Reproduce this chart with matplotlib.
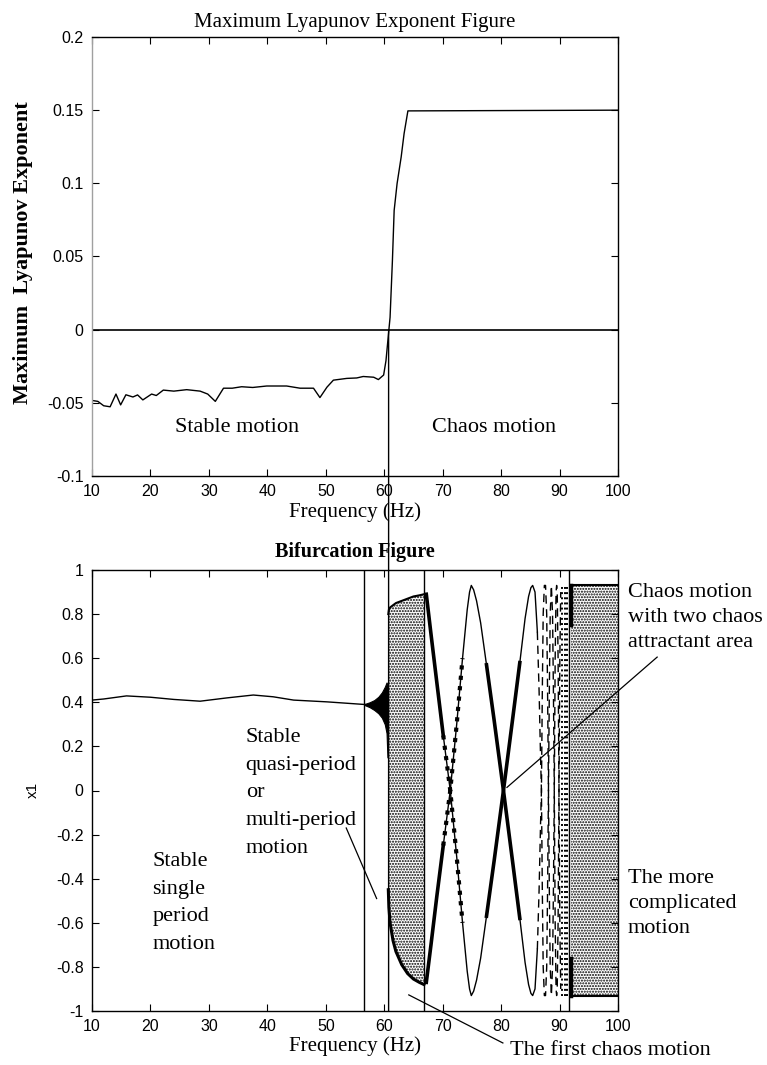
import matplotlib
matplotlib.use("Agg")
import numpy as np
import matplotlib.pyplot as plt
from matplotlib.patches import ConnectionPatch

# --- data ------------------------------------------------------------------
lyap_freq = [10.2, 11.0, 12.0, 13.1, 14.1, 14.9, 15.8, 17.0, 17.8, 18.7,
             20.2, 21.0, 22.2, 24.0, 26.2, 28.5, 29.8, 31.1, 32.5, 34.0,
             35.6, 37.5, 39.9, 43.3, 45.6, 47.9, 49.0, 50.2, 51.3, 53.6,
             55.3, 56.4, 58.2, 59.0, 59.9, 60.3, 60.8, 61.0, 61.4, 61.7,
             62.2, 62.9, 63.4, 64.05, 100.0]
lyap_value = [-0.0485, -0.049, -0.052, -0.0527, -0.044, -0.0514, -0.0445, -0.046, -0.0446, -0.048,
              -0.044, -0.045, -0.0413, -0.042, -0.041, -0.042, -0.044, -0.049, -0.040, -0.040,
              -0.039, -0.0395, -0.0385, -0.0385, -0.040, -0.040, -0.0464, -0.0393, -0.0345, -0.0333,
              -0.033, -0.032, -0.0325, -0.0341, -0.031, -0.0212, 0.0, 0.0084, 0.047, 0.0815,
              0.0998, 0.118, 0.134, 0.1495, 0.15]

stable_freq = [10.0, 12.0, 15.9, 20.0, 24.0, 28.5, 33.1, 37.6, 41.0, 44.5, 50.2, 56.7]
stable_x1 = [0.41, 0.415, 0.429, 0.423, 0.413, 0.405, 0.42, 0.433, 0.425, 0.41, 0.402, 0.39]

# quasi-period blob before 60.7 Hz
blob_freq = [56.6, 57.5, 58.3, 59.0, 59.6, 60.1, 60.4, 60.55, 60.7]
blob_hi = [0.392, 0.40, 0.41, 0.425, 0.445, 0.47, 0.49, 0.48, 0.45]
blob_lo = [0.388, 0.378, 0.365, 0.35, 0.33, 0.30, 0.26, 0.15, 0.22]

# first chaos cloud
c1_freq = [60.7, 60.8, 61.0, 61.5, 62.0, 63.0, 64.0, 65.0, 66.0, 66.8]
c1_hi = [0.80, 0.82, 0.83, 0.84, 0.85, 0.86, 0.87, 0.88, 0.885, 0.89]
c1_lo = [-0.45, -0.53, -0.60, -0.68, -0.73, -0.79, -0.83, -0.855, -0.87, -0.88]

# two-attractor branches
br_freq = [67.2, 68.0, 69.0, 70.1, 71.3, 72.4, 73.4, 74.2, 74.6, 74.9,
           75.3, 75.8, 76.5, 77.5, 78.8, 80.4, 82.0, 83.2, 84.1, 84.7,
           85.1, 85.4, 85.8, 86.2, 86.5, 86.75, 86.9, 87.05, 87.2, 87.4,
           87.6, 87.8, 87.95, 88.1, 88.25, 88.4, 88.6, 88.8, 88.95, 89.1,
           89.25, 89.4, 89.5, 89.6, 89.75, 89.9, 90.05, 90.2]
br_up = [0.89, 0.71, 0.49, 0.25, 0.0, -0.30, -0.60, -0.82, -0.90, -0.93,
         -0.91, -0.86, -0.76, -0.57, -0.32, 0.0, 0.33, 0.58, 0.78, 0.88,
         0.92, 0.93, 0.90, 0.72, 0.45, 0.15, 0.0, -0.45, -0.80, -0.93,
         -0.93, -0.80, -0.45, 0.0, 0.45, 0.80, 0.93, 0.80, 0.45, 0.0,
         -0.60, -0.90, -0.93, -0.90, -0.60, 0.0, 0.60, 0.90]
br_down = [-0.87, -0.70, -0.48, -0.25, 0.0, 0.30, 0.60, 0.82, 0.90, 0.93,
           0.91, 0.86, 0.76, 0.57, 0.32, 0.0, -0.33, -0.58, -0.78, -0.88,
           -0.92, -0.93, -0.90, -0.72, -0.45, -0.15, 0.0, 0.45, 0.80, 0.93,
           0.93, 0.80, 0.45, 0.0, -0.45, -0.80, -0.93, -0.80, -0.45, 0.0,
           0.60, 0.90, 0.93, 0.90, 0.60, 0.0, -0.60, -0.90]

band_freq = [90.5, 90.9, 91.3]

c3_freq = [92.0, 100.0]
c3_hi = [0.93, 0.93]
c3_lo = [-0.93, -0.93]

vlines_freq = [56.6, 66.8, 91.6]
link_freq = 60.75

serif = ["Liberation Serif", "DejaVu Serif"]
sans = ["Liberation Sans", "DejaVu Sans"]

plt.rcParams["hatch.linewidth"] = 1.0

W, H = 767, 1065
fig = plt.figure(figsize=(W / 100, H / 100), dpi=100)


def px(x, y):
    return x / W, 1 - y / H


def style_axes(ax):
    ax.tick_params(direction="in", length=5, top=True, right=True,
                   labelsize=11.5, width=0.8, pad=6)
    for lab in ax.get_xticklabels() + ax.get_yticklabels():
        lab.set_family(sans)
    for s in ax.spines.values():
        s.set_linewidth(1.0)


# --- top: Lyapunov exponent -------------------------------------------------
ax1 = fig.add_axes([92 / W, 1 - 476 / H, 526 / W, 439 / H])
ax1.plot(lyap_freq, lyap_value, color="black", lw=1.0)
ax1.axhline(0, color="black", lw=1.2)
ax1.set_xlim(10, 100)
ax1.set_ylim(-0.1, 0.2)
ax1.set_xticks(range(10, 101, 10))
ax1.set_yticks([-0.1, -0.05, 0, 0.05, 0.1, 0.15, 0.2])
ax1.set_yticklabels(["-0.1", "-0.05", "0", "0.05", "0.1", "0.15", "0.2"])
style_axes(ax1)
ax1.spines["left"].set_color("#a0a0a0")
ax1.text(34.8, -0.067, "Stable motion", family=serif, fontsize=16,
         ha="center", va="center")
ax1.text(78.8, -0.067, "Chaos motion", family=serif, fontsize=16,
         ha="center", va="center")

# --- bottom: bifurcation ----------------------------------------------------
ax2 = fig.add_axes([92 / W, 1 - 1011 / H, 526 / W, 441 / H])
ax2.set_xlim(10, 100)
ax2.set_ylim(-1, 1)
ax2.set_xticks(range(10, 101, 10))
yt = np.round(np.arange(-1, 1.01, 0.2), 1)
ax2.set_yticks(yt)
ax2.set_yticklabels(["%g" % v if v != 0 else "0" for v in yt])
style_axes(ax2)

ax2.plot(stable_freq, stable_x1, color="black", lw=1.0)
ax2.fill_between(blob_freq, blob_lo, blob_hi, color="black", lw=0.8)

ax2.fill_between(c1_freq, c1_lo, c1_hi, facecolor="white", edgecolor="black",
                 hatch="......", lw=0)
ax2.plot(c1_freq, c1_hi, color="black", lw=1.5)
ax2.plot(c1_freq, c1_lo, color="black", lw=2.2)

bf = np.array(br_freq)
for branch in (br_up, br_down):
    b = np.array(branch)
    solid = bf <= 86.2
    ax2.plot(bf[solid], b[solid], color="black", lw=1.0)
    dashed = bf >= 86.2
    ax2.plot(bf[dashed], b[dashed], color="black", lw=1.0, ls=(0, (6, 4)))
    thick = ((bf >= 67.2) & (bf <= 70.6)) | ((bf >= 77.5) & (bf <= 83.2))
    ax2.plot(np.where(thick, bf, np.nan), b, color="black", lw=2.6)
    fuzzy = (bf >= 70.1) & (bf <= 73.4)
    ax2.plot(bf[fuzzy], b[fuzzy], color="black", lw=3.0, ls=(0, (1, 1.5)))

ax2.vlines(band_freq, -0.93, 0.93, color="black", lw=1.4, linestyles="dotted")

ax2.fill_between(c3_freq, c3_lo, c3_hi, facecolor="white", edgecolor="black",
                 hatch="......", lw=0)
ax2.plot(c3_freq, c3_hi, color="black", lw=1.5)
ax2.plot(c3_freq, c3_lo, color="black", lw=1.5)
ax2.plot([92.0, 92.0], [0.75, 0.93], color="black", lw=2.5)
ax2.plot([92.0, 92.0], [-0.93, -0.76], color="black", lw=2.5)

for f in vlines_freq:
    ax2.axvline(f, color="black", lw=1.0)

link = ConnectionPatch(xyA=(link_freq, 0.0), coordsA=ax1.transData,
                       xyB=(link_freq, -1.0), coordsB=ax2.transData,
                       color="black", lw=1.0)
fig.add_artist(link)

# annotations
ann = dict(family=serif, fontsize=16, ha="left", va="center", linespacing=1.62)
ax2.text(20.3, -0.51, "Stable\nsingle\nperiod\nmotion", **ann)
ax2.text(36.3, -0.01, "Stable\nquasi-period\nor\nmulti-period\nmotion", **ann)
ax2.text(101.7, 0.786, "Chaos motion\nwith two chaos\nattractant area",
         clip_on=False, **dict(ann, linespacing=1.42))
ax2.text(101.7, -0.514, "The more\ncomplicated\nmotion",
         clip_on=False, **dict(ann, linespacing=1.42))
ax2.text(81.5, -1.18, "The first chaos motion", clip_on=False, **ann)

ax2.plot([53.5, 58.7], [-0.17, -0.49], color="black", lw=0.9)
ax2.plot([106.7, 81.0], [0.605, 0.014], color="black", lw=0.9, clip_on=False)
ax2.plot([64.2, 80.3], [-0.927, -1.145], color="black", lw=0.9, clip_on=False)

# titles and axis labels
fig.text(*px(355, 23), "Maximum Lyapunov Exponent Figure", family=serif,
         fontsize=15, ha="center", va="center")
fig.text(*px(23, 253), "Maximum  Lyapunov Exponent", family=serif,
         fontsize=16, fontweight="bold", rotation=90, ha="center", va="center")
fig.text(*px(355, 512), "Frequency (Hz)", family=serif, fontsize=15,
         ha="center", va="center")
fig.text(*px(355, 552), "Bifurcation Figure", family=serif, fontsize=14.5,
         fontweight="bold", ha="center", va="center")
fig.text(*px(33, 790), "x1", family=sans, fontsize=11, rotation=90,
         ha="center", va="center")
fig.text(*px(355, 1046), "Frequency (Hz)", family=serif, fontsize=15,
         ha="center", va="center")

fig.savefig("out.png", dpi=100)
